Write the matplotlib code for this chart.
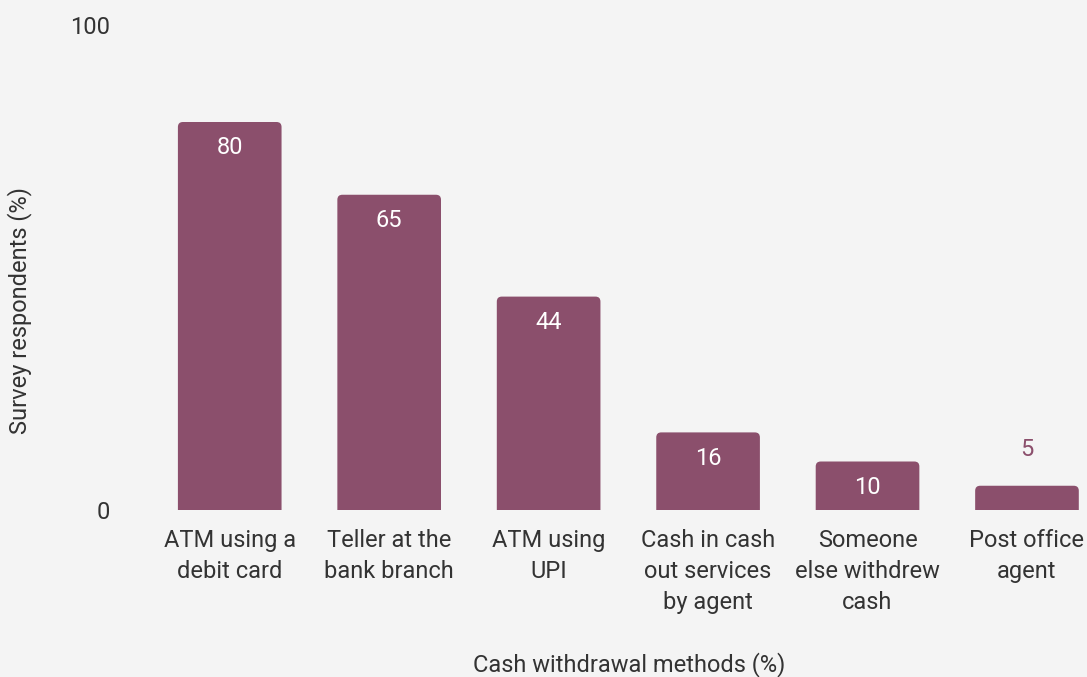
import matplotlib
matplotlib.use("Agg")
import matplotlib.pyplot as plt
from matplotlib.patches import FancyBboxPatch

# withdrawal methods and share of respondents
methods = ["ATM using a\ndebit card", "Teller at the\nbank branch", "ATM using\nUPI",
           "Cash in cash\nout services\nby agent", "Someone\nelse withdrew\ncash", "Post office\nagent"]
shares = [80, 65, 44, 16, 10, 5]
yticks = [0, 100]

bar_color = "#8b4f6c"
bg = "#f4f4f4"
text_color = "#333333"

plt.rcParams["font.family"] = ["Roboto", "DejaVu Sans"]

W, H = 1087, 677
fig = plt.figure(figsize=(W / 100, H / 100), dpi=100, facecolor=bg)
ax = fig.add_axes([150 / W, 1 - 510 / H, 1 - 150 / W, (510 - 25) / H])
ax.set_facecolor(bg)

step = 159.4
ax.set_xlim(-0.5, (W - 230) / step)
ax.set_ylim(0, 100)

width = 0.65
px_x = step
px_y = 485 / 100.0
aspect = px_x / px_y
radius = 5 / px_x

for i, v in enumerate(shares):
    patch = FancyBboxPatch((i - width / 2, -3), width, v + 3,
                           boxstyle="round,pad=0,rounding_size=%f" % radius,
                           mutation_aspect=aspect, facecolor=bar_color,
                           edgecolor="none", clip_on=True)
    ax.add_patch(patch)
    if v >= 8:
        ax.text(i, v - 5.3, str(v), ha="center", va="center", color="white", fontsize=17)
    else:
        ax.text(i, v + 7.4, str(v), ha="center", va="center", color=bar_color, fontsize=17)

ax.set_xticks(range(len(methods)))
ax.set_xticklabels(methods, fontsize=17, color=text_color, linespacing=1.42, va="top")
ax.set_yticks(yticks)
ax.set_yticklabels([str(t) for t in yticks], fontsize=17, color=text_color)
ax.tick_params(length=0)
ax.tick_params(axis="x", pad=14)
ax.tick_params(axis="y", pad=29)
for s in ax.spines.values():
    s.set_visible(False)

fig.text(20 / W, 1 - 311 / H, "Survey respondents (%)", rotation=90, ha="center", va="center",
         fontsize=17, color=text_color)
fig.text(629 / W, 1 - 665 / H, "Cash withdrawal methods (%)", ha="center", va="center",
         fontsize=17, color=text_color)

fig.savefig("out.png", dpi=100, facecolor=bg)
